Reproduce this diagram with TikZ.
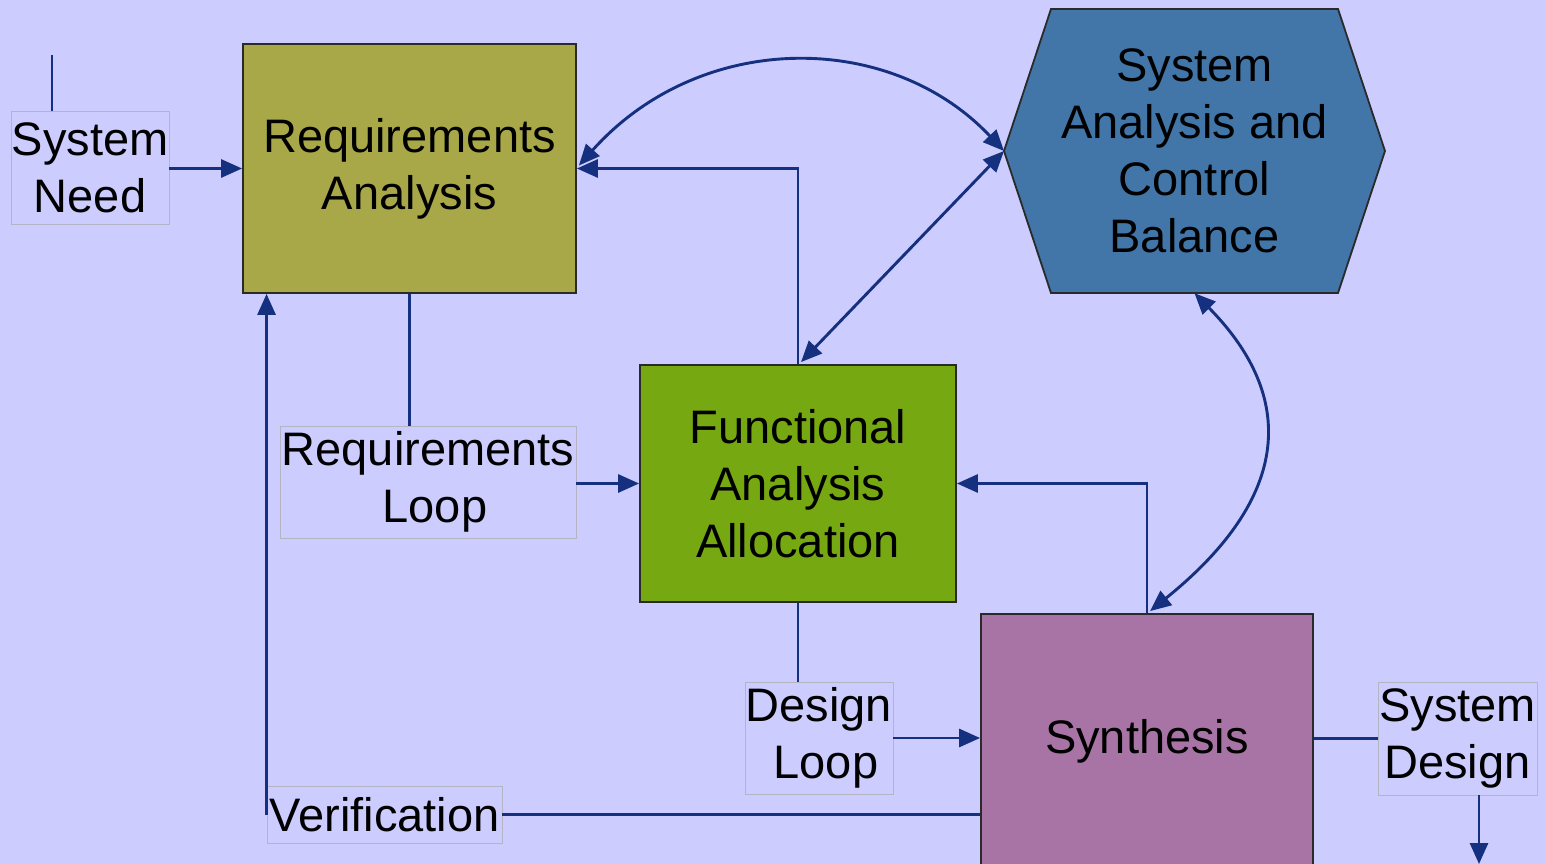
\documentclass[tikz,border=0pt]{standalone}
\usepackage{fontspec}
\setmainfont{Liberation Sans}
\usetikzlibrary{arrows.meta,calc}

\definecolor{bgcol}{HTML}{CCCCFF}
\definecolor{reqcol}{HTML}{A8A848}
\definecolor{hexcol}{HTML}{4276A9}
\definecolor{funcol}{HTML}{76A811}
\definecolor{syncol}{HTML}{A874A6}
\definecolor{navy}{HTML}{15307E}
\definecolor{edgecol}{HTML}{2A2A2A}
\definecolor{tagcol}{HTML}{B4B4C4}

\tikzset{
  bigtext/.style={font=\fontsize{47}{57}\selectfont, align=center},
  block/.style={bigtext, draw=edgecol, line width=1.8pt, inner sep=0pt},
  tag/.style={bigtext, draw=tagcol, line width=0.9pt, inner sep=0pt},
  link/.style={draw=navy, line width=2.9pt},
  tip/.tip={Triangle[length=21pt,width=18pt]},
  arr/.style={link, -tip},
  twoway/.style={link, tip-tip},
}

\begin{document}
\begin{tikzpicture}[x=1pt,y=-1pt]
\fill[bgcol] (0,0) rectangle (1545,864);
\useasboundingbox (0,0) rectangle (1545,864);

% main process blocks
\node[block, fill=reqcol, minimum width=333pt, minimum height=249pt] (ra) at (409.5,168.5) {Requirements\\Analysis};
\node[block, fill=funcol, minimum width=316pt, minimum height=237pt] (fa) at (798,483.5) {Functional\\Analysis\\Allocation};
\node[block, fill=syncol, minimum width=332pt, minimum height=254pt] (syn) at (1147,741) {Synthesis};

% control hexagon
\filldraw[fill=hexcol, draw=edgecol, line width=1.8pt]
  (1051,9) -- (1338,9) -- (1385,151) -- (1338,293) -- (1051,293) -- (1004,151) -- cycle;
\coordinate (sacL) at (1004,151);
\node[bigtext, inner sep=0pt, minimum width=287pt, minimum height=284pt] (sac) at (1194.5,151) {System\\Analysis and\\Control\\Balance};

% loop labels
\node[tag, minimum width=158pt, minimum height=113pt] (sn) at (90,167.5) {System\\Need};
\node[tag, minimum width=296pt, minimum height=112pt] (rl) at (428,482) {Requirements\\\hspace*{14pt}Loop};
\node[tag, minimum width=148pt, minimum height=112pt] (dl) at (819,738) {Design\\\hspace*{14pt}Loop};
\node[tag, minimum width=159pt, minimum height=113pt] (sd) at (1457.5,738.5) {System\\Design};
\node[tag, minimum width=235pt, minimum height=57pt] (ver) at (384.5,814.5) {Verification};

\coordinate (snin) at (52,55);
\coordinate (sdout) at (1479,864);

% connectors
\draw[link] (snin) -- (snin |- sn.north);
\draw[arr] (sn.east |- ra.west) -- (ra.west);

\draw[link] (ra.south) -- (rl.north -| ra.south);
\draw[arr] (rl.east |- fa.west) -- (fa.west);

\draw[link] (fa.south) -- (dl.north -| fa.south);
\draw[arr] (dl.east) -- (syn.west |- dl.east);

\draw[link] (syn.east |- sd.west) -- (sd.west);
\draw[arr] (sdout |- sd.south) -- (sdout);

\draw[link] (syn.west |- ver.east) -- (ver.east);
\draw[arr] (ver.west) -- (ver.west |- ra.south);

\draw[arr] (fa.north) -- (fa.north |- ra.east) -- (ra.east);
\draw[arr] (syn.north) -- (syn.north |- fa.east) -- (fa.east);

\draw[twoway] ($(ra.east)+(2,-3)$) .. controls (700,30) and (890,30) .. (sacL);
\draw[twoway] ($(fa.north)+(3,-2)$) -- (sacL);
\draw[twoway] (sac.south) .. controls (1290,390) and (1300,490) .. ($(syn.north)+(3,-2)$);
\end{tikzpicture}
\end{document}
